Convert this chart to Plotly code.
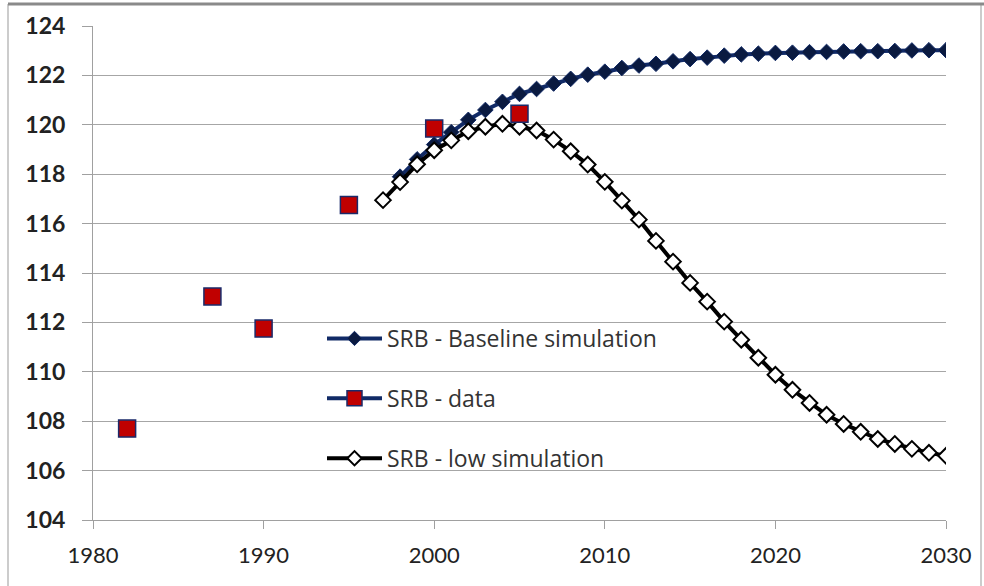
import plotly.graph_objects as go

# ---- data ----
data_years = [1982, 1987, 1990, 1995, 2000, 2005]
data_srb = [107.7, 113.05, 111.75, 116.75, 119.85, 120.45]

base_years = list(range(1998, 2031))
base_srb = [117.9, 118.6, 119.2, 119.7, 120.2, 120.6, 120.93, 121.25, 121.45, 121.67,
            121.86, 122.03, 122.15, 122.3, 122.4, 122.47, 122.57, 122.66, 122.72, 122.8,
            122.85, 122.88, 122.91, 122.92, 122.94, 122.95, 122.97, 122.98, 122.98, 122.99,
            123.01, 123.02, 123.02]

low_years = list(range(1997, 2031))
low_srb = [116.95, 117.68, 118.4, 118.97, 119.37, 119.74, 119.92, 120.04, 119.92, 119.77,
           119.4, 118.93, 118.39, 117.69, 116.93, 116.16, 115.3, 114.46, 113.6, 112.84,
           112.03, 111.3, 110.57, 109.88, 109.27, 108.74, 108.26, 107.89, 107.57, 107.28,
           107.08, 106.88, 106.72, 106.6]

x_ticks = [1980, 1990, 2000, 2010, 2020, 2030]
y_ticks = list(range(104, 125, 2))

names = ["SRB - Baseline simulation", "SRB - data", "SRB - low simulation"]

NAVY = "#112a66"
RED = "#c00000"

fig = go.Figure()

# real traces
fig.add_trace(go.Scatter(x=base_years, y=base_srb, mode="lines+markers",
                         line=dict(color=NAVY, width=4),
                         marker=dict(symbol="diamond", size=12, color="#0a1a40",
                                     line=dict(color=NAVY, width=1)),
                         showlegend=False))
fig.add_trace(go.Scatter(x=low_years, y=low_srb, mode="lines+markers",
                         line=dict(color="black", width=4),
                         marker=dict(symbol="diamond", size=12, color="white",
                                     line=dict(color="black", width=2)),
                         showlegend=False))
fig.add_trace(go.Scatter(x=data_years, y=data_srb, mode="markers",
                         marker=dict(symbol="square", size=17, color=RED,
                                     line=dict(color="#1a2a6a", width=1.5)),
                         showlegend=False))

# legend entries (Excel-style line+marker keys)
fig.add_trace(go.Scatter(x=[None], y=[None], mode="lines+markers", name=names[0],
                         legendgroup="a", legendrank=1,
                         line=dict(color=NAVY, width=4),
                         marker=dict(symbol="diamond", size=11, color="#0a1a40",
                                     line=dict(color=NAVY, width=1))))
fig.add_trace(go.Scatter(x=[None], y=[None], mode="lines+markers", name=names[1],
                         legendgroup="b", legendrank=2,
                         line=dict(color=NAVY, width=4),
                         marker=dict(symbol="square", size=15, color=RED,
                                     line=dict(color="#1a2a6a", width=1.5))))
fig.add_trace(go.Scatter(x=[None], y=[None], mode="lines+markers", name=names[2],
                         legendgroup="c", legendrank=3,
                         line=dict(color="black", width=4),
                         marker=dict(symbol="diamond", size=11, color="white",
                                     line=dict(color="black", width=2))))

L, R, T, B = 93, 38, 26, 66
W, H = 984, 586
pw, ph = W - L - R, H - T - B

def px(xp):
    return (xp - L) / pw

def py(yp):
    return (H - B - yp) / ph

fig.update_layout(
    width=W, height=H,
    margin=dict(l=L, r=R, t=T, b=B),
    paper_bgcolor="white", plot_bgcolor="white",
    font=dict(family="Lato, Noto Sans, sans-serif", color="#222222"),
    legend=dict(x=px(322), y=py(317), xanchor="left", yanchor="top",
                bgcolor="rgba(0,0,0,0)", tracegroupgap=27, itemwidth=55,
                font=dict(family="Open Sans, Lato, sans-serif", size=23, color="#333333"),
                traceorder="grouped"),
    xaxis=dict(range=[1980, 2030], tickvals=x_ticks, ticktext=[str(v) for v in x_ticks],
               showgrid=False, zeroline=False, showline=True, linecolor="#a0a0a0",
               linewidth=1, ticks="outside", ticklen=8, tickcolor="#a0a0a0",
               ticklabelstandoff=8,
               tickfont=dict(size=22, color="#222222")),
    yaxis=dict(range=[104, 124], tickvals=y_ticks, ticktext=[str(v) for v in y_ticks],
               showgrid=True, gridcolor="#a6a6a6", gridwidth=1, zeroline=False,
               showline=True, linecolor="#a0a0a0", linewidth=1,
               ticks="outside", ticklen=10, tickcolor="#a0a0a0",
               ticklabelstandoff=12,
               tickfont=dict(size=23, color="#222222", weight="bold")),
    shapes=[
        dict(type="rect", xref="paper", yref="paper",
             x0=px(8), x1=px(981), y0=py(600), y1=py(4),
             line=dict(color="#999999", width=1), fillcolor="rgba(0,0,0,0)", layer="below"),
        dict(type="line", xref="paper", yref="paper",
             x0=px(8), x1=px(984), y0=py(4), y1=py(4),
             line=dict(color="#8a8a8a", width=3)),
    ],
)

fig.write_html("out.html")
